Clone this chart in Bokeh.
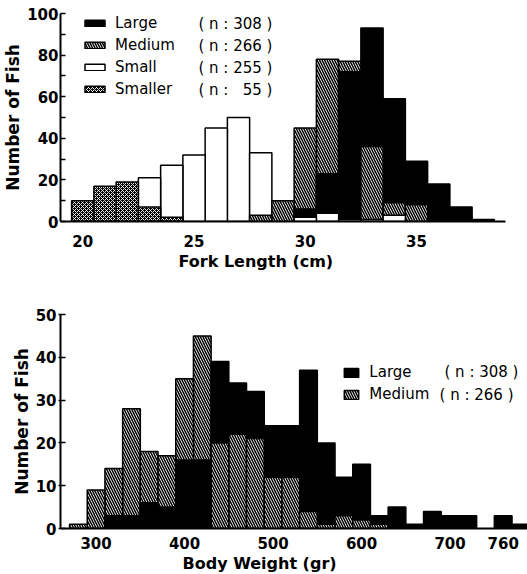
from bokeh.plotting import figure
from bokeh.models import (ColumnDataSource, Range1d, FixedTicker, Label, Title,
                          Legend, LegendItem)
from bokeh.layouts import column
from bokeh.embed import file_html
from bokeh.resources import INLINE

# ---------------- data: Fork Length histogram (1 cm bins) ----------------
fl_bins = [20, 21, 22, 23, 24, 25, 26, 27, 28, 29, 30, 31, 32, 33, 34, 35, 36, 37, 38]
fl_large = [0, 0, 0, 0, 0, 0, 0, 0, 0, 0, 6, 23, 72, 93, 59, 29, 18, 7, 1]
fl_medium = [0, 0, 0, 0, 0, 0, 0, 0, 3, 10, 45, 78, 77, 36, 9, 8, 0, 0, 0]
fl_small = [0, 0, 0, 21, 27, 32, 45, 50, 33, 0, 2, 4, 1, 1, 3, 0, 0, 0, 0]
fl_smaller = [10, 17, 19, 7, 2, 0, 0, 0, 0, 0, 0, 0, 0, 0, 0, 0, 0, 0, 0]
fl_names = ["Large", "Medium", "Small", "Smaller"]
fl_counts = [308, 266, 255, 55]
fl_ticks = [20, 25, 30, 35]

# ---------------- data: Body Weight histogram (20 g bins) ----------------
bw_bins = [280, 300, 320, 340, 360, 380, 400, 420, 440, 460, 480, 500, 520,
           540, 560, 580, 600, 620, 640, 660, 680, 700, 720, 740, 760, 780]
bw_large = [0, 0, 3, 3, 6, 5, 16, 16, 39, 34, 32, 24, 24,
            37, 20, 12, 15, 3, 5, 1, 4, 3, 3, 0, 3, 1]
bw_medium = [1, 9, 14, 28, 18, 17, 35, 45, 20, 22, 21, 12, 12,
             4, 1, 3, 2, 1, 0, 0, 0, 0, 0, 0, 0, 0]
bw_names = ["Large", "Medium"]
bw_counts = [308, 266]
bw_ticks = [300, 400, 500, 600, 700, 760]

# ---------------- styles ----------------
STYLE = {
    "Large":   dict(fill="black", hatch=" ", hcolor="black", hscale=5.0, hweight=1.0),
    "Medium":  dict(fill="white", hatch="\\", hcolor="black", hscale=5.0, hweight=1.5),
    "Small":   dict(fill="white", hatch=" ", hcolor="black", hscale=5.0, hweight=1.0),
    "Smaller": dict(fill="black", hatch="x", hcolor="white", hscale=4.0, hweight=0.9),
}
TXT = "DejaVu Sans"


def build_source(bins, width, series):
    rows = []
    for name, vals in series:
        for b, v in zip(bins, vals):
            if v > 0:
                rows.append((v, b - width / 2, b + width / 2, name))
    # taller bars drawn first so that shorter ones stay in front (overlaid histogram)
    rows.sort(key=lambda r: -r[0])
    d = dict(top=[], left=[], right=[], name=[], fill=[], hatch=[], hcolor=[], hscale=[], hweight=[])
    for v, l, r, name in rows:
        s = STYLE[name]
        d["top"].append(v)
        d["left"].append(l)
        d["right"].append(r)
        d["name"].append(name)
        d["fill"].append(s["fill"])
        d["hatch"].append(s["hatch"])
        d["hcolor"].append(s["hcolor"])
        d["hscale"].append(s["hscale"])
        d["hweight"].append(s["hweight"])
    return ColumnDataSource(d)


def style_axes(p):
    p.grid.visible = False
    p.outline_line_color = None
    for ax in (p.xaxis[0], p.yaxis[0]):
        ax.axis_line_color = "black"
        ax.axis_line_width = 2
        ax.major_label_text_font = TXT
        ax.major_label_text_font_style = "bold"
        ax.major_label_text_font_size = "15px"
        ax.major_label_text_color = "black"
    p.xaxis.major_tick_in = 0
    p.xaxis.major_tick_out = 0
    p.xaxis.minor_tick_in = 0
    p.xaxis.minor_tick_out = 0
    p.yaxis.major_tick_in = 5
    p.yaxis.major_tick_out = 0
    p.yaxis.minor_tick_in = 5
    p.yaxis.minor_tick_out = 0
    p.yaxis.major_tick_line_width = 1.5
    p.yaxis.minor_tick_line_width = 1.5
    p.yaxis.axis_label = "Number of Fish"
    p.yaxis.axis_label_text_font = TXT
    p.yaxis.axis_label_text_font_style = "bold"
    p.yaxis.axis_label_text_font_size = "17px"
    p.yaxis.axis_label_text_color = "black"
    p.yaxis.axis_label_standoff = 1
    p.yaxis.major_label_standoff = 2


def add_legend(p, renderer, src, names, counts, loc, gw, gh, standoff, xn, ys):
    items = []
    for name in names:
        idx = src.data["name"].index(name)
        items.append(LegendItem(label=name, renderers=[renderer], index=idx))
    leg = Legend(items=items, location=loc, orientation="vertical",
                 glyph_width=gw, glyph_height=gh, label_standoff=standoff,
                 label_height=22, label_width=10, spacing=0, padding=0, margin=0,
                 border_line_color=None, background_fill_alpha=0.0,
                 label_text_font=TXT, label_text_font_size="15px", label_text_color="black")
    p.add_layout(leg)
    for i, name in enumerate(names):
        n_txt = str(counts[i])
        if len(n_txt) < 3:
            n_txt = "\u2007" * (3 - len(n_txt)) + n_txt
        p.add_layout(Label(x=xn[i], y=ys[i], text="( n : " + n_txt + " )", text_baseline="middle",
                           text_font=TXT, text_font_size="15px", text_color="black"))


# ---------------- top figure ----------------
p1 = figure(frame_width=445, frame_height=208, x_range=Range1d(19, 39), y_range=Range1d(0, 100),
            output_backend="svg", toolbar_location=None,
            min_border_left=55, min_border_right=23, min_border_top=13, min_border_bottom=69)
src1 = build_source(fl_bins, 1.0, [("Large", fl_large), ("Medium", fl_medium),
                                   ("Small", fl_small), ("Smaller", fl_smaller)])
r1 = p1.quad(left="left", right="right", bottom=0, top="top", source=src1,
             fill_color="fill", hatch_pattern="hatch", hatch_color="hcolor",
             hatch_scale="hscale", hatch_weight="hweight",
             line_color="black", line_width=1.5)
style_axes(p1)
p1.xaxis.ticker = FixedTicker(ticks=fl_ticks)
p1.xaxis.major_label_standoff = 13
p1.yaxis.ticker = FixedTicker(ticks=[0, 20, 40, 60, 80, 100], minor_ticks=[10, 30, 50, 70, 90])
p1.add_layout(Title(text="Fork Length (cm)", align="left", offset=118, standoff=0,
                    text_font=TXT, text_font_style="bold", text_font_size="16px",
                    text_color="black"), "below")
add_legend(p1, r1, src1, fl_names, fl_counts, (22, 121), 25, 8, 8,
           [25.2, 25.2, 25.2, 25.2], [95.0, 84.5, 73.9, 63.3])

# ---------------- bottom figure ----------------
p2 = figure(frame_width=471, frame_height=214, x_range=Range1d(259.8, 792.0), y_range=Range1d(0, 50),
            output_backend="svg", toolbar_location=None,
            min_border_left=56, min_border_right=0, min_border_top=24, min_border_bottom=46)
src2 = build_source(bw_bins, 20.0, [("Large", bw_large), ("Medium", bw_medium)])
r2 = p2.quad(left="left", right="right", bottom=0, top="top", source=src2,
             fill_color="fill", hatch_pattern="hatch", hatch_color="hcolor",
             hatch_scale="hscale", hatch_weight="hweight",
             line_color="black", line_width=1.5)
style_axes(p2)
p2.xaxis.ticker = FixedTicker(ticks=bw_ticks)
p2.xaxis.major_label_standoff = 8
p2.yaxis.ticker = FixedTicker(ticks=[0, 10, 20, 30, 40, 50])
p2.yaxis.major_tick_out = 2
p2.add_layout(Title(text="Body Weight (gr)", align="left", offset=122, standoff=0,
                    text_font=TXT, text_font_style="bold", text_font_size="16px",
                    text_color="black"), "below")
add_legend(p2, r2, src2, bw_names, bw_counts, (289, 123), 18, 11, 9,
           [693.7, 688.1], [36.45, 31.3])

layout = column(p1, p2, spacing=0)
open("out.html", "w").write(file_html(layout, INLINE))
